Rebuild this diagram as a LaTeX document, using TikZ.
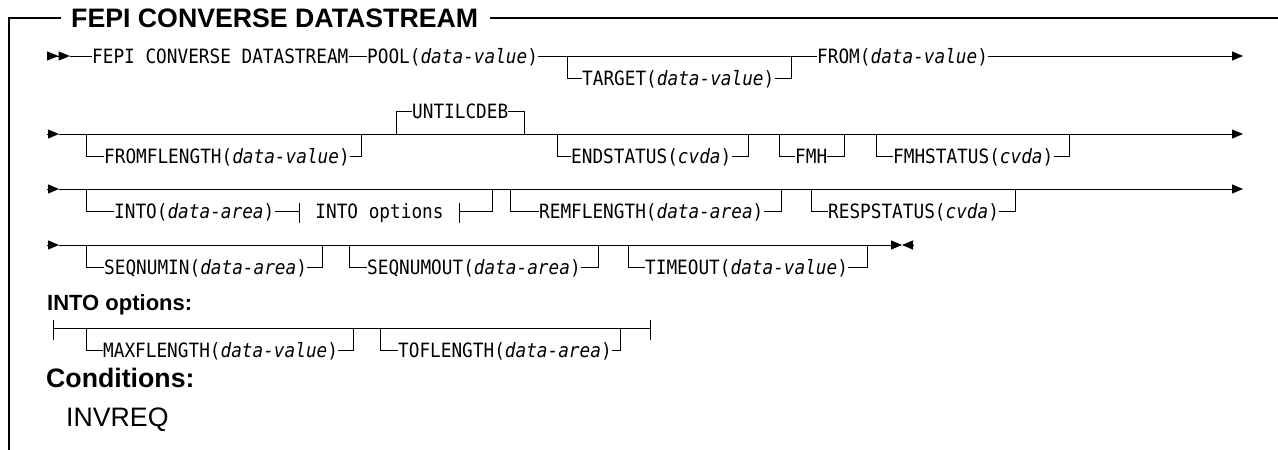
\documentclass[tikz,border=0pt]{standalone}
\usepackage{fontspec}
\setmainfont{Liberation Sans}
\newfontfamily\monofont[FakeStretch=0.9]{DejaVu Sans Mono}
\usetikzlibrary{arrows.meta,positioning,calc}

\newcommand{\parm}[1]{(\textit{#1})}

\begin{document}
\begin{tikzpicture}[
  x=1pt, y=-1pt,
  kw/.style={
    anchor=west, inner sep=0pt, text height=14.4pt, text depth=0pt,
    font=\monofont\fontsize{19.7pt}{22pt}\selectfont
  },
  optbox/.style={
    inner sep=0pt, text height=14.4pt, text depth=0pt,
    font=\monofont\fontsize{19.7pt}{22pt}\selectfont
  },
  ttl/.style={
    anchor=west, inner sep=0pt, text height=19.2pt, text depth=0pt,
    font=\bfseries\fontsize{26.7pt}{30pt}\selectfont
  },
  hdr/.style={anchor=west, inner sep=0pt, font=\bfseries\fontsize{22pt}{25pt}\selectfont},
  cnd/.style={anchor=west, inner sep=0pt, font=\bfseries\fontsize{26.7pt}{30pt}\selectfont},
  cval/.style={anchor=west, inner sep=0pt, font=\fontsize{26.7pt}{30pt}\selectfont},
  rr/.style={line width=1pt},
  frm/.style={line width=1.5pt},
  tip/.style={-{Triangle[length=11pt,width=9pt]}},
  dbl/.style={-{Triangle[length=11.5pt,width=9pt]Triangle[length=11.5pt,width=9pt]}}
]
\useasboundingbox (0,0) rectangle (1278,450);

% ---- frame and title ----
\node[ttl] (title) at (71,18) {FEPI CONVERSE DATASTREAM};
\coordinate (ftl) at (9,18);
\coordinate (fbl) at (9,450);
\coordinate (ftr) at (1278,18);
\draw[frm] ([xshift=-10pt]title.west) -- (ftl) -- (fbl);
\draw[frm] ([xshift=12pt]title.east) -- (ftr);

% ---- row 1 ----
\coordinate (r1s) at (47,56);
\coordinate (r1a) at (70,56);
\node[kw] (fepi)   at (92,56)  {FEPI CONVERSE DATASTREAM};
\node[kw] (pool)   at (367,56) {POOL\parm{data-value}};
\coordinate (r1b) at (567,56);
\node[kw] (target) at (582,78) {TARGET\parm{data-value}};
\coordinate (r1c) at (791,56);
\node[kw] (from)   at (817,56) {FROM\parm{data-value}};
\coordinate (r1e) at (1243,56);

\draw[rr,dbl] (r1s) -- (r1a);
\draw[rr] (r1a) -- (fepi);
\draw[rr] (fepi) -- (pool);
\draw[rr] (pool) -- (from);
\draw[rr] (r1b) |- (target);
\draw[rr] (target) -| (r1c);
\draw[rr,tip] (from) -- (r1e);

% ---- row 2 ----
\coordinate (r2s) at (47,134);
\coordinate (r2a) at (59,134);
\coordinate (r2e) at (1243,134);
\node[kw] (fromflen)  at (104,156) {FROMFLENGTH\parm{data-value}};
\node[kw] (untilcdeb) at (412,111) {UNTILCDEB};
\node[kw] (endstatus) at (571,156) {ENDSTATUS\parm{cvda}};
\node[kw] (fmh)       at (795,156) {FMH};
\node[kw] (fmhstatus) at (893,156) {FMHSTATUS\parm{cvda}};
\coordinate (r2b) at (86,134);   \coordinate (r2c) at (361,134);
\coordinate (r2d) at (396,134);  \coordinate (r2f) at (524,134);
\coordinate (r2g) at (557,134);  \coordinate (r2h) at (748,134);
\coordinate (r2i) at (779,134);  \coordinate (r2j) at (844,134);
\coordinate (r2k) at (876,134);  \coordinate (r2l) at (1069,134);

\draw[rr,tip] (r2s) -- (r2a);
\draw[rr,tip] (r2a) -- (r2e);
\draw[rr] (r2b) |- (fromflen);  \draw[rr] (fromflen) -| (r2c);
\draw[rr] (r2d) |- (untilcdeb); \draw[rr] (untilcdeb) -| (r2f);
\draw[rr] (r2g) |- (endstatus); \draw[rr] (endstatus) -| (r2h);
\draw[rr] (r2i) |- (fmh);       \draw[rr] (fmh) -| (r2j);
\draw[rr] (r2k) |- (fmhstatus); \draw[rr] (fmhstatus) -| (r2l);

% ---- row 3 ----
\coordinate (r3s) at (47,189);
\coordinate (r3a) at (59,189);
\coordinate (r3e) at (1243,189);
\node[kw] (into) at (114,211) {INTO\parm{data-area}};
\node[optbox, minimum width=159pt] (intoopt) at (379.5,211) {INTO options};
\node[kw] (remflen)    at (539,211) {REMFLENGTH\parm{data-area}};
\node[kw] (respstatus) at (828,211) {RESPSTATUS\parm{cvda}};
\coordinate (r3b) at (86,189);   \coordinate (r3c) at (492,189);
\coordinate (r3d) at (510,189);  \coordinate (r3f) at (781,189);
\coordinate (r3g) at (811,189);  \coordinate (r3h) at (1015,189);

\draw[rr,tip] (r3s) -- (r3a);
\draw[rr,tip] (r3a) -- (r3e);
\draw[rr] (r3b) |- (into);
\draw[rr] (into) -- (intoopt);
\draw[rr] ([yshift=8pt]intoopt.west) -- ([yshift=-12pt]intoopt.west);
\draw[rr] ([yshift=8pt]intoopt.east) -- ([yshift=-12pt]intoopt.east);
\draw[rr] (intoopt) -| (r3c);
\draw[rr] (r3d) |- (remflen);    \draw[rr] (remflen) -| (r3f);
\draw[rr] (r3g) |- (respstatus); \draw[rr] (respstatus) -| (r3h);

% ---- row 4 ----
\coordinate (r4s) at (47,245);
\coordinate (r4a) at (59,245);
\coordinate (r4e) at (902,245);
\coordinate (r4z) at (913,245);
\node[kw] (seqin)   at (104,267) {SEQNUMIN\parm{data-area}};
\node[kw] (seqout)  at (367,267) {SEQNUMOUT\parm{data-area}};
\node[kw] (timeout) at (645,267) {TIMEOUT\parm{data-value}};
\coordinate (r4b) at (86,245);   \coordinate (r4c) at (322,245);
\coordinate (r4d) at (349,245);  \coordinate (r4f) at (598,245);
\coordinate (r4g) at (628,245);  \coordinate (r4h) at (867,245);

\draw[rr,tip] (r4s) -- (r4a);
\draw[rr,tip] (r4a) -- (r4e);
\draw[rr,tip] (r4z) -- (r4e);
\draw[rr] (r4b) |- (seqin);   \draw[rr] (seqin) -| (r4c);
\draw[rr] (r4d) |- (seqout);  \draw[rr] (seqout) -| (r4f);
\draw[rr] (r4g) |- (timeout); \draw[rr] (timeout) -| (r4h);

% ---- INTO options fragment ----
\node[hdr] (intolbl) at (47,305) {INTO options:};
\coordinate (ob1) at (53,328);
\coordinate (ob2) at (650,328);
\node[kw] (maxflen) at (103,350) {MAXFLENGTH\parm{data-value}};
\node[kw] (toflen)  at (398,350) {TOFLENGTH\parm{data-area}};
\coordinate (oc1) at (86,328);   \coordinate (oc2) at (353,328);
\coordinate (oc3) at (380,328);  \coordinate (oc4) at (620,328);

\draw[rr] ([yshift=8pt]ob1) -- ([yshift=-12pt]ob1);
\draw[rr] ([yshift=8pt]ob2) -- ([yshift=-12pt]ob2);
\draw[rr] (ob1) -- (ob2);
\draw[rr] (oc1) |- (maxflen); \draw[rr] (maxflen) -| (oc2);
\draw[rr] (oc3) |- (toflen);  \draw[rr] (toflen) -| (oc4);

% ---- conditions ----
\node[cnd]  (condlbl) at (46,378) {Conditions:};
\node[cval] (invreq)  at (66,420) {INVREQ};

\end{tikzpicture}
\end{document}
